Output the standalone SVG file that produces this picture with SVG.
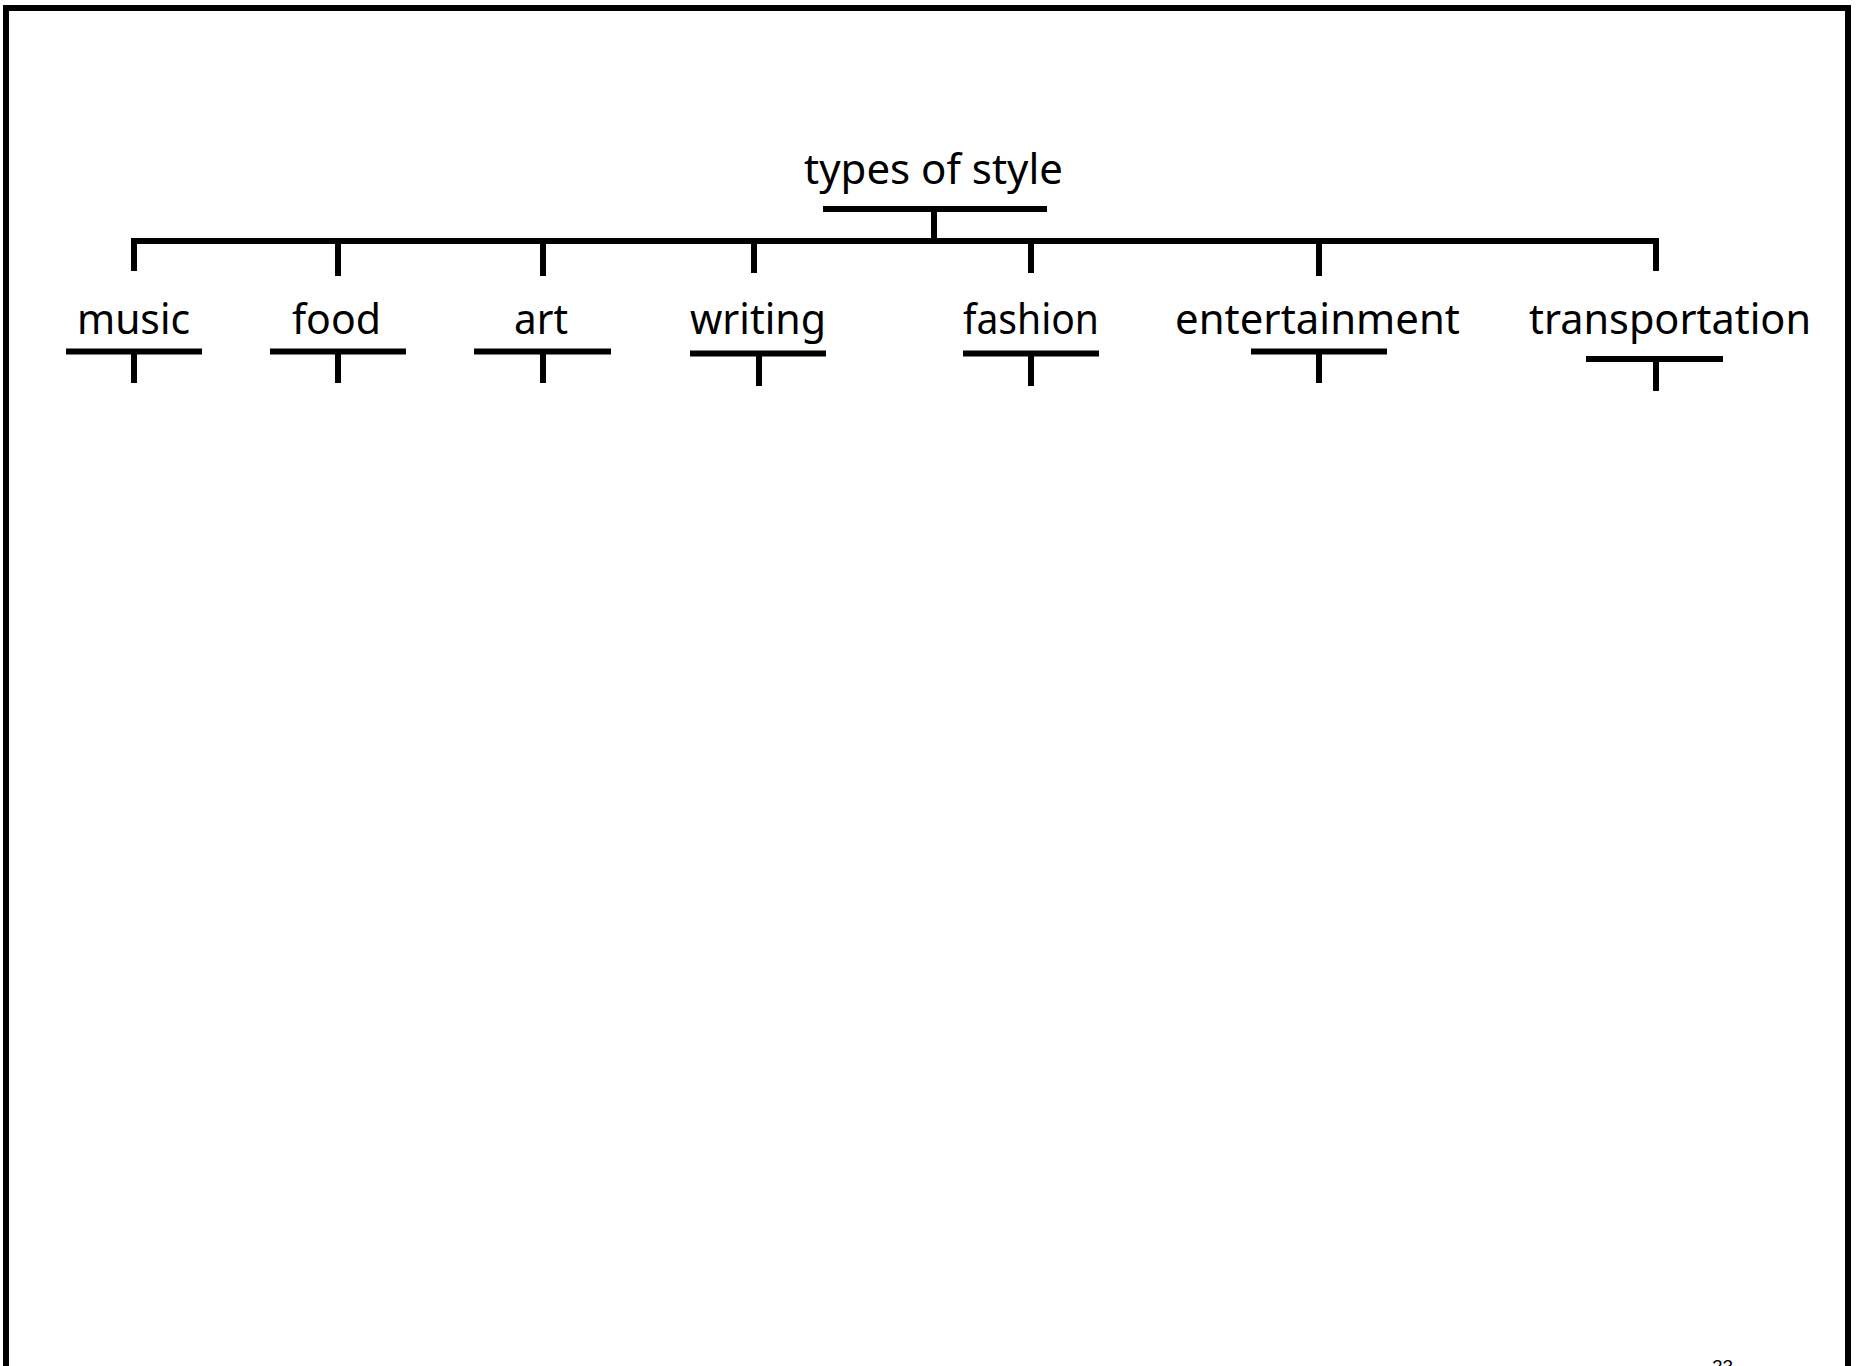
<svg xmlns="http://www.w3.org/2000/svg" width="1859" height="1366" viewBox="0 0 1859 1366">
<style>
.ln{stroke:#000;stroke-width:6;fill:none;stroke-linecap:butt;stroke-linejoin:miter}
.lbl{font-family:"Noto Sans","Open Sans",sans-serif;font-size:42px;fill:#000;text-anchor:middle}
.pg{font-family:"Liberation Sans",Arial,sans-serif;font-size:19px;fill:#000}
</style>
<rect x="0" y="0" width="1859" height="1366" fill="#fff"/>
<path class="ln" d="M6,1370 V8 H1848 V1370" stroke-width="6.5"/>
<g id="connectors">
<path class="ln" d="M934,209 V241"/>
<path class="ln" d="M134,271 V241 H1656 V271"/>
<path class="ln" d="M338,241 V276"/>
<path class="ln" d="M543,241 V276"/>
<path class="ln" d="M754,241 V273"/>
<path class="ln" d="M1031,241 V273"/>
<path class="ln" d="M1319,241 V276"/>
<path class="ln" d="M134,351 V383"/>
<path class="ln" d="M338,351 V383"/>
<path class="ln" d="M543,351 V383"/>
<path class="ln" d="M759,353 V386"/>
<path class="ln" d="M1031,353 V386"/>
<path class="ln" d="M1319,351 V383"/>
<path class="ln" d="M1656,359 V391"/>
</g>
<g id="root">
<text class="lbl" x="933.5" y="184" textLength="259" lengthAdjust="spacingAndGlyphs">types of style</text>
<path class="ln" d="M823,209 H1047"/>
</g>
<g id="music">
<text class="lbl" x="133.5" y="334" textLength="113" lengthAdjust="spacingAndGlyphs">music</text>
<path class="ln" d="M66,351.5 H202"/>
</g>
<g id="food">
<text class="lbl" x="336.5" y="334" textLength="89" lengthAdjust="spacingAndGlyphs">food</text>
<path class="ln" d="M270,351.5 H406"/>
</g>
<g id="art">
<text class="lbl" x="541" y="334" textLength="54" lengthAdjust="spacingAndGlyphs">art</text>
<path class="ln" d="M474,351.5 H611"/>
</g>
<g id="writing">
<text class="lbl" x="758" y="334" textLength="136" lengthAdjust="spacingAndGlyphs">writing</text>
<path class="ln" d="M690,353.5 H826"/>
</g>
<g id="fashion">
<text class="lbl" x="1031" y="334" textLength="136" lengthAdjust="spacingAndGlyphs">fashion</text>
<path class="ln" d="M963,353.5 H1099"/>
</g>
<g id="entertainment">
<text class="lbl" x="1317.5" y="334" textLength="285" lengthAdjust="spacingAndGlyphs">entertainment</text>
<path class="ln" d="M1251,351.5 H1387"/>
</g>
<g id="transportation">
<text class="lbl" x="1670" y="334" textLength="282" lengthAdjust="spacingAndGlyphs">transportation</text>
<path class="ln" d="M1586,359 H1723"/>
</g>
<text class="pg" x="1712" y="1373">23</text>
</svg>
